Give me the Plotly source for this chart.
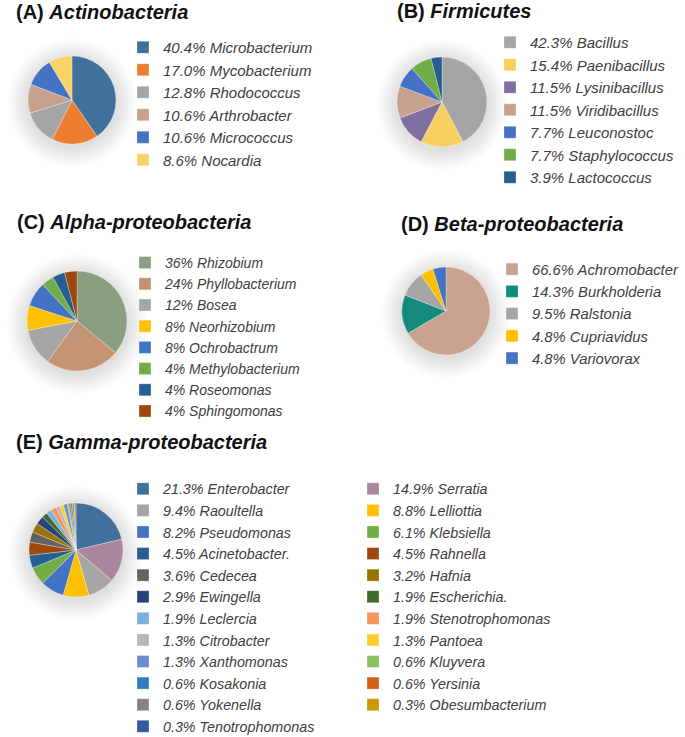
import plotly.graph_objects as go

# ---------------- data ----------------
actino_names = ["Microbacterium", "Mycobacterium", "Rhodococcus", "Arthrobacter", "Micrococcus", "Nocardia"]
actino_values = [40.4, 17.0, 12.8, 10.6, 10.6, 8.6]

firmi_names = ["Bacillus", "Paenibacillus", "Lysinibacillus", "Viridibacillus", "Leuconostoc", "Staphylococcus", "Lactococcus"]
firmi_values = [42.3, 15.4, 11.5, 11.5, 7.7, 7.7, 3.9]

alpha_names = ["Rhizobium", "Phyllobacterium", "Bosea", "Neorhizobium", "Ochrobactrum", "Methylobacterium", "Roseomonas", "Sphingomonas"]
alpha_values = [36, 24, 12, 8, 8, 4, 4, 4]

beta_names = ["Achromobacter", "Burkholderia", "Ralstonia", "Cupriavidus", "Variovorax"]
beta_values = [66.6, 14.3, 9.5, 4.8, 4.8]

gamma_names = ["Enterobacter", "Serratia", "Raoultella", "Lelliottia", "Pseudomonas", "Klebsiella",
               "Acinetobacter.", "Rahnella", "Cedecea", "Hafnia", "Ewingella", "Escherichia.",
               "Leclercia", "Stenotrophomonas", "Citrobacter", "Pantoea", "Xanthomonas", "Kluyvera",
               "Kosakonia", "Yersinia", "Yokenella", "Obesumbacterium", "Tenotrophomonas"]
gamma_values = [21.3, 14.9, 9.4, 8.8, 8.2, 6.1, 4.5, 4.5, 3.6, 3.2, 2.9, 1.9, 1.9, 1.9, 1.3, 1.3, 1.3,
                0.6, 0.6, 0.6, 0.6, 0.3, 0.3]

titles = ["(A)", "(B)", "(C)", "(D)", "(E)"]
title_names = ["Actinobacteria", "Firmicutes", "Alpha-proteobacteria", "Beta-proteobacteria", "Gamma-proteobacteria"]

# ---------------- styles ----------------
actino_colors = ["#41709C", "#ED7D31", "#A5A5A5", "#C8A18E", "#4472C4", "#F8D366"]
firmi_colors = ["#A5A5A5", "#F6CF60", "#7F6FA0", "#C8A18E", "#4472C4", "#70AD47", "#255E91"]
alpha_colors = ["#8B9E7F", "#C39373", "#A5A5A5", "#FFC000", "#4472C4", "#70AD47", "#255E91", "#9E480E"]
beta_colors = ["#C9A38F", "#138A7A", "#A5A5A5", "#FFC000", "#4472C4"]
gamma_colors = ["#41709C", "#A8879E", "#A5A5A5", "#FFC000", "#4472C4", "#70AD47",
                "#255E91", "#9E480E", "#636363", "#997300", "#264478", "#43682B",
                "#7CAFDD", "#F1975A", "#B7B7B7", "#FFCD33", "#698ED0", "#8CC168",
                "#327DC2", "#D26012", "#848484", "#CC9A00", "#335AA1"]

W, H = 685, 737
ML, MR, MT, MB = 0, 10, 0, 0
GW, GH = W - ML - MR, H - MT - MB


def px_x(px):
    return (px - ML) / GW


def px_y(py):
    return 1 - (py - MT) / GH


def fmt(vals, dec):
    return [f"{v:.{dec}f}%" for v in vals]


panels = [
    dict(names=actino_names, values=actino_values, colors=actino_colors, dec=1,
         cx=72, cy=100, r=44, legend="legend", lx=123, ltop=31, fs=15, title_xy=(14, 12)),
    dict(names=firmi_names, values=firmi_values, colors=firmi_colors, dec=1,
         cx=442, cy=102, r=45, legend="legend2", lx=490, ltop=26, fs=15, title_xy=(395, 11)),
    dict(names=alpha_names, values=alpha_values, colors=alpha_colors, dec=0,
         cx=77, cy=321, r=50, legend="legend3", lx=125, ltop=247, fs=14, title_xy=(15, 222)),
    dict(names=beta_names, values=beta_values, colors=beta_colors, dec=1,
         cx=446, cy=311, r=44, legend="legend4", lx=492, ltop=253, fs=14.8, title_xy=(399, 224)),
    dict(names=gamma_names, values=gamma_values, colors=gamma_colors, dec=1,
         cx=76, cy=550, r=47, legend="legend5", lx=123, ltop=473, fs=14.3, title_xy=(14, 442)),
]

fig = go.Figure()
shapes = []
annotations = []
layout_legends = {}

for i, p in enumerate(panels):
    labels = [f"{pc} {n}" for pc, n in zip(fmt(p["values"], p["dec"]), p["names"])]
    cx, cy, r = p["cx"], p["cy"], p["r"]
    fig.add_trace(go.Pie(
        labels=labels, values=p["values"], sort=False, direction="clockwise", rotation=0,
        marker=dict(colors=p["colors"], line=dict(color="white", width=0.3)),
        textinfo="none", hoverinfo="label",
        domain=dict(x=[px_x(cx - r), px_x(cx + r)], y=[px_y(cy + r), px_y(cy - r)]),
        legend=p["legend"], showlegend=True,
    ))
    # soft shadow glow
    for k in range(16):
        rr = r + 1 + k * 1.3
        oy = 3
        shapes.append(dict(type="circle", xref="paper", yref="paper", layer="below",
                           x0=px_x(cx - rr), x1=px_x(cx + rr),
                           y0=px_y(cy + oy + rr), y1=px_y(cy + oy - rr),
                           fillcolor="rgba(0,0,0,0.009)", line=dict(width=0)))
    tx, ty = p["title_xy"]
    annotations.append(dict(
        text=f"<b>{titles[i]} <i>{title_names[i]}</i></b>", xref="paper", yref="paper",
        x=px_x(tx), y=px_y(ty), xanchor="left", yanchor="middle", showarrow=False,
        font=dict(family="Liberation Sans, Arial", size=20, color="#111111")))
    leg = dict(x=px_x(p["lx"]), y=px_y(p["ltop"]), xanchor="left", yanchor="top",
               bgcolor="rgba(0,0,0,0)", borderwidth=0, traceorder="normal",
               font=dict(family="Liberation Sans, Arial", size=p["fs"], color="#404040", style="italic"))
    if i == 4:
        leg.update(orientation="h", entrywidth=185, entrywidthmode="pixels")
    layout_legends[p["legend"]] = leg

fig.update_layout(
    width=W, height=H, margin=dict(l=ML, r=MR, t=MT, b=MB, autoexpand=False),
    paper_bgcolor="white", plot_bgcolor="white",
    shapes=shapes, annotations=annotations,
    **layout_legends,
)

# place the figure flush with the page corner (remove the default 8px body margin)
fig.write_html("out.html", config={"displayModeBar": False},
               post_script="document.body.style.margin='0px';")
